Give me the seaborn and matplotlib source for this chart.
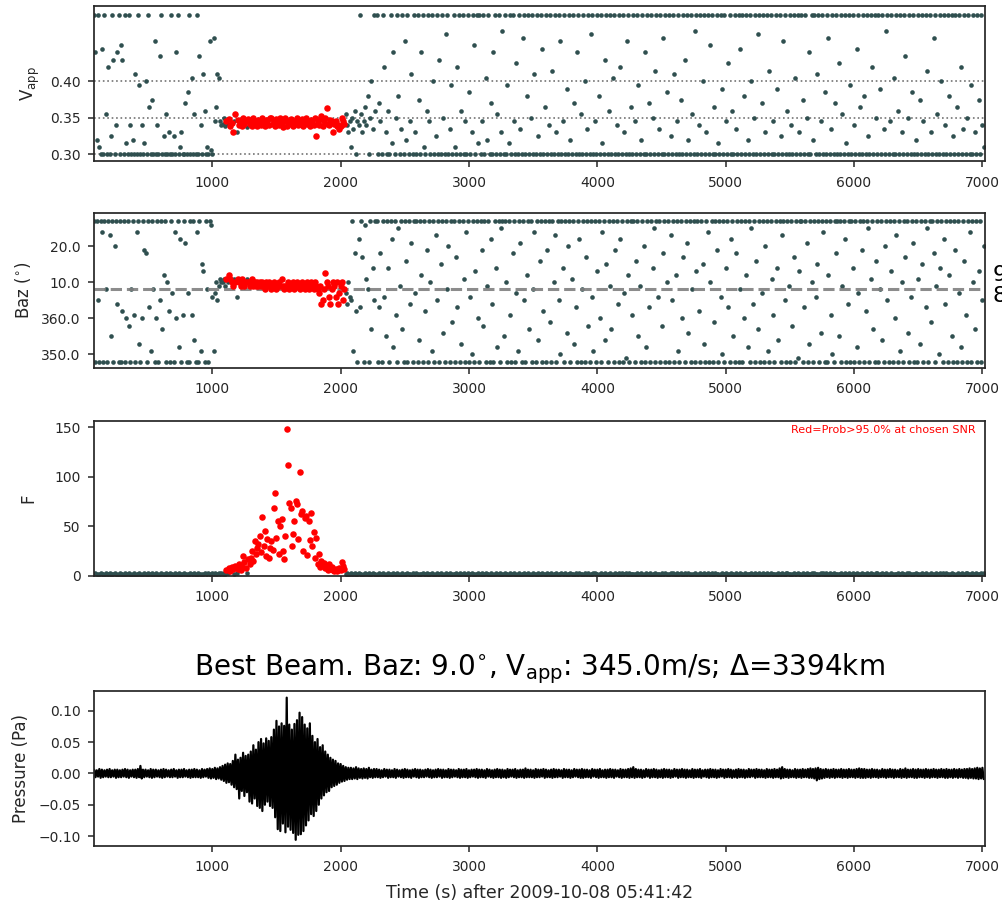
import numpy as np
import pandas as pd
import matplotlib
matplotlib.use("Agg")
import matplotlib.pyplot as plt
import seaborn as sns

# ---------------- data ----------------
# analysis windows: one every 10 s starting at t = 80 s
win_start, win_step = 80, 10

# apparent velocity (km/s * 1000)
vapp_x1000 = [
    492, 440, 320, 492, 310, 300, 445, 300, 492, 355,
    300, 420, 300, 325, 492, 430, 300, 340, 440, 492,
    300, 450, 430, 300, 492, 315, 300, 492, 340, 300,
    320, 300, 410, 300, 492, 395, 300, 340, 300, 315,
    400, 300, 492, 365, 300, 375, 300, 455, 300, 340,
    300, 435, 492, 300, 325, 300, 355, 300, 330, 300,
    492, 300, 325, 300, 440, 492, 300, 310, 330, 300,
    300, 370, 300, 385, 492, 300, 405, 300, 355, 300,
    492, 300, 435, 340, 300, 410, 360, 300, 310, 300,
    455, 305, 300, 460, 345, 365, 410, 405, 345, 340,
    342, 350, 338, 345, 341, 348, 339, 343, 330, 345,
    355, 330, 347, 340, 345, 338, 349, 341, 345, 337,
    348, 341, 345, 339, 350, 342, 346, 338, 347, 343,
    340, 349, 344, 338, 347, 345, 340, 349, 350, 341,
    345, 338, 348, 343, 340, 349, 344, 337, 345, 350,
    339, 345, 341, 348, 344, 338, 346, 343, 349, 340,
    345, 341, 348, 339, 346, 350, 342, 345, 338, 347,
    344, 340, 349, 325, 346, 340, 348, 352, 338, 345,
    350, 364, 342, 340, 347, 345, 330, 342, 345, 338,
    340, 335, 338, 350, 345, 342, 355, 340, 330, 345,
    310, 350, 335, 360, 300, 345, 340, 492, 355, 330,
    345, 365, 340, 380, 300, 350, 400, 335, 492, 360,
    492, 300, 370, 345, 300, 492, 420, 330, 300, 360,
    300, 492, 315, 440, 300, 350, 492, 380, 300, 335,
    492, 300, 455, 320, 492, 300, 345, 410, 300, 492,
    330, 300, 492, 375, 300, 440, 492, 310, 300, 360,
    492, 345, 300, 492, 400, 300, 325, 492, 300, 430,
    300, 492, 350, 300, 465, 492, 300, 335, 395, 300,
    492, 310, 300, 420, 492, 300, 360, 492, 300, 345,
    300, 492, 385, 300, 330, 492, 450, 300, 492, 315,
    492, 300, 345, 492, 300, 405, 320, 492, 300, 370,
    300, 440, 492, 300, 355, 492, 300, 330, 470, 300,
    492, 300, 395, 315, 492, 300, 492, 345, 300, 425,
    300, 492, 335, 300, 460, 492, 300, 380, 492, 300,
    350, 492, 300, 410, 300, 492, 325, 300, 492, 445,
    300, 365, 492, 300, 340, 492, 300, 415, 300, 492,
    330, 300, 492, 455, 300, 345, 492, 300, 390, 300,
    492, 320, 300, 492, 370, 300, 440, 492, 300, 355,
    300, 492, 400, 300, 335, 492, 300, 465, 492, 300,
    345, 300, 492, 380, 300, 492, 315, 300, 430, 492,
    300, 360, 492, 300, 405, 492, 300, 340, 300, 492,
    420, 300, 492, 330, 300, 455, 492, 300, 365, 300,
    492, 345, 300, 492, 395, 300, 320, 492, 300, 440,
    300, 492, 370, 300, 492, 350, 300, 415, 492, 300,
    335, 492, 300, 460, 300, 492, 385, 300, 492, 325,
    300, 492, 410, 300, 345, 492, 300, 375, 300, 492,
    430, 300, 492, 320, 300, 492, 355, 300, 470, 492,
    300, 340, 492, 300, 400, 492, 300, 330, 492, 300,
    450, 492, 300, 365, 300, 492, 315, 300, 492, 390,
    300, 492, 345, 300, 425, 492, 300, 360, 300, 492,
    335, 300, 492, 445, 300, 492, 380, 300, 492, 320,
    300, 492, 400, 300, 350, 492, 300, 465, 492, 300,
    370, 492, 300, 330, 492, 300, 415, 492, 300, 345,
    300, 492, 390, 300, 492, 325, 300, 455, 492, 300,
    360, 300, 492, 340, 300, 492, 405, 300, 492, 330,
    300, 492, 375, 300, 492, 350, 300, 440, 300, 492,
    320, 492, 300, 410, 492, 300, 345, 492, 300, 385,
    300, 492, 460, 300, 335, 492, 300, 370, 492, 300,
    425, 300, 492, 355, 300, 492, 315, 300, 492, 395,
    300, 492, 340, 300, 445, 492, 300, 365, 300, 492,
    380, 300, 492, 325, 300, 492, 420, 300, 492, 350,
    300, 492, 390, 300, 492, 335, 300, 470, 492, 300,
    345, 492, 300, 405, 300, 492, 360, 300, 492, 330,
    300, 492, 435, 300, 350, 492, 300, 385, 492, 300,
    320, 300, 492, 375, 300, 492, 345, 300, 492, 415,
    300, 492, 330, 300, 460, 492, 300, 355, 300, 492,
    400, 300, 492, 340, 300, 492, 380, 300, 492, 325,
    300, 492, 365, 300, 492, 420, 300, 335, 492, 300,
    350, 492, 300, 395, 300, 492, 330, 300, 492, 375,
    300, 492, 340, 310,
]

# back azimuth in degrees (negative = 350..360 side)
baz_deg = [
    27, -12, 27, 5, -12, 27, 24, -12, 27, 8,
    -12, 27, 23, -5, 27, -12, 20, 27, 4, -12,
    27, -12, 2, 27, -12, 0, 27, -2, -12, 8,
    27, 1, -12, 24, 27, -7, -12, 0, 27, 19,
    18, -12, 27, 3, -9, 27, 8, -12, 0, 27,
    -12, 5, 27, -3, 12, 27, -12, 10, 2, -12,
    27, 7, -12, 24, 0, 27, -8, 22, -12, 1,
    27, 21, -12, 7, -12, 27, 1, 27, -6, -12,
    24, -12, 27, -9, 15, 13, -12, 27, 8, -12,
    27, 26, 6, -9, 7, 10, 5, 9, 11, 10,
    10, 11, 9, 11, 10, 12, 11, 10, 9, 11,
    10, 6, 11, 10, 9, 11, 10, 9, 10, 11,
    10, 9, 10, 11, 9, 10, 9, 10, 9, 10,
    9, 10, 9, 8, 10, 9, 10, 9, 8, 9,
    10, 9, 8, 9, 10, 9, 11, 9, 8, 9,
    9, 10, 8, 9, 9, 10, 8, 9, 10, 9,
    8, 9, 10, 9, 8, 9, 10, 8, 9, 10,
    9, 8, 10, 9, 8, 7, 9, 4, 5, 8,
    12.5, 10, 9, 6, 4, 8, 10, 9, 6, 10,
    4, 7, 9, 10, 5, 8, 7, 4, 10, 6,
    5, 27, -9, 18, 2, -12, 22, 3, 27, 17,
    -12, 26, 11, 8, -12, 27, -3, 14, 5, 27,
    27, -12, 3, 18, -12, 27, 6, -5, 27, 14,
    -12, 27, 22, -8, 27, 1, -12, 25, 9, 27,
    -3, -12, 27, 16, -12, 27, 4, 21, -12, 27,
    7, 27, -12, -6, 27, 12, -12, 27, 2, 19,
    -12, 27, 10, -9, 27, -12, 23, 5, 27, -12,
    15, 27, -4, -12, 27, 8, 20, -12, 27, -1,
    27, -12, 17, 3, 27, -12, -7, 27, 11, -12,
    24, 27, -12, 6, -10, 27, -12, 13, 27, 0,
    -12, 27, 19, -2, 27, -12, 9, 27, -12, 22,
    4, -12, 27, 14, -8, 27, -12, 25, 27, -5,
    27, 10, -12, 27, 1, -12, 18, 27, -12, 7,
    -9, 27, 21, -12, 27, 5, -12, 12, 27, -3,
    27, -12, 8, 24, -12, 27, -6, 16, 27, -12,
    2, 27, -12, 19, 27, -1, -12, 27, 10, 23,
    -12, 27, 5, -10, 27, 14, -12, 27, -4, 20,
    27, -12, 11, 27, -7, 3, -12, 27, 22, -12,
    8, 27, -12, 17, 27, -2, -12, 27, 6, -9,
    27, -12, 13, 27, 0, -12, 24, 27, -6, 15,
    -12, 27, 9, -3, 27, -12, 19, 27, 4, -12,
    22, 27, -12, 7, -11, 27, 12, -12, 27, 1,
    27, -12, 16, 27, -5, 9, -12, 27, 20, -12,
    -8, 27, 3, -12, 27, 14, 25, -12, 27, 6,
    27, -12, -2, 18, 27, -12, 10, 27, -12, 23,
    5, 27, -12, 12, 27, -9, -12, 27, 0, 17,
    -12, 27, 21, -4, 27, -12, 8, 27, -12, 13,
    27, 2, -12, 27, 15, -7, -12, 27, 24, -12,
    10, 27, -12, -1, 27, 19, -12, 27, 6, -10,
    27, -12, 14, 27, 3, -12, 22, 27, -5, -12,
    18, 27, -12, 8, 27, -12, 0, 27, 12, -8,
    27, -12, 25, 4, 27, -12, 16, -3, 27, -12,
    7, 27, -12, 20, 27, -9, -12, 27, 11, 1,
    -12, 27, 14, -6, 27, -12, 23, 27, 5, -12,
    27, 9, -12, 27, -2, 17, -12, 27, -11, 13,
    27, 27, -12, 3, 27, 21, -12, -7, 27, 10,
    -12, 27, 6, 15, 27, -12, -4, 27, 24, -12,
    27, -12, 12, 27, 1, -10, -12, 27, 18, 27,
    -5, 27, -12, 9, 27, 22, -12, 4, 27, -12,
    27, 14, -12, 27, -8, 7, -12, 27, 19, 27,
    -12, 2, 27, 25, -12, 11, 27, -3, -12, 16,
    27, -12, 8, 27, -6, -12, 20, 27, 5, -12,
    27, 13, -12, 27, 0, 23, -12, 27, -9, 10,
    -12, 27, 17, 27, -4, -12, 6, 27, 21, -12,
    27, -12, 11, -7, 27, 15, -12, 27, 3, 25,
    -12, 27, -1, 27, 18, -12, 9, 27, -10, 14,
    27, -12, 22, 4, 27, -12, 12, 27, -5, -12,
    27, 19, -12, 27, 7, -8, -12, 27, 16, 1,
    -12, 27, 24, -12, 27, 10, -3, 27, -12, 13,
    27, -12, 5, 20,
]

# Fisher statistic
f_stat = [
    2, 3, 2, 1, 2, 3, 2, 2, 1, 3,
    2, 2, 3, 1, 2, 2, 3, 2, 1, 2,
    3, 2, 2, 1, 3, 2, 2, 3, 2, 1,
    2, 3, 1, 2, 2, 3, 2, 1, 2, 3,
    2, 1, 3, 2, 2, 3, 1, 2, 3, 2,
    1, 2, 3, 2, 2, 1, 3, 2, 2, 3,
    2, 2, 1, 3, 2, 2, 3, 1, 2, 2,
    3, 2, 2, 1, 2, 3, 2, 2, 3, 1,
    2, 3, 2, 2, 1, 2, 3, 2, 2, 3,
    2, 1, 3, 2, 3, 2, 2, 3, 2, 3,
    2, 3, 2, 6, 3, 8, 5, 9, 7, 2,
    10, 3, 7, 12, 6, 9, 20, 14, 8, 3,
    17, 12, 18, 25, 15, 35, 22, 28, 32, 40,
    24, 59, 30, 45, 20, 37, 18, 28, 35, 26,
    68, 84, 38, 55, 22, 50, 57, 25, 17, 40,
    148, 112, 74, 68, 30, 42, 55, 76, 73, 37,
    105, 62, 65, 25, 58, 60, 21, 55, 36, 63,
    30, 44, 18, 38, 12, 22, 9, 15, 11, 13,
    8, 10, 6, 12, 7, 9, 6, 5, 7, 5,
    6, 8, 6, 14, 10, 7, 2, 3, 1, 2,
    3, 2, 2, 3, 1, 2, 3, 2, 2, 1,
    2, 3, 2, 2, 3, 1, 2, 3, 2, 2,
    1, 2, 3, 2, 2, 3, 2, 1, 2, 3,
    2, 2, 1, 3, 2, 2, 3, 2, 1, 2,
    3, 1, 2, 2, 3, 2, 2, 1, 3, 2,
    2, 3, 2, 1, 2, 2, 3, 2, 2, 3,
    1, 2, 2, 3, 2, 1, 2, 3, 2, 2,
    3, 2, 1, 2, 3, 2, 2, 3, 1, 2,
    2, 2, 3, 2, 1, 3, 2, 2, 3, 2,
    1, 3, 2, 2, 3, 2, 1, 2, 2, 3,
    2, 2, 3, 1, 2, 3, 2, 2, 1, 3,
    2, 1, 2, 3, 2, 2, 3, 1, 2, 2,
    3, 2, 2, 1, 3, 2, 2, 3, 2, 1,
    2, 3, 1, 2, 2, 3, 2, 2, 3, 2,
    1, 2, 3, 2, 2, 1, 3, 2, 2, 3,
    2, 2, 1, 3, 2, 2, 3, 1, 2, 2,
    3, 1, 2, 2, 3, 2, 2, 3, 1, 2,
    2, 3, 2, 2, 1, 3, 2, 2, 3, 2,
    2, 1, 3, 2, 2, 3, 1, 2, 2, 3,
    3, 2, 2, 1, 2, 3, 2, 2, 3, 1,
    2, 2, 3, 2, 1, 2, 3, 2, 2, 3,
    1, 3, 2, 2, 3, 2, 1, 3, 2, 2,
    2, 2, 1, 3, 2, 2, 3, 2, 1, 2,
    3, 2, 2, 3, 1, 2, 2, 3, 2, 2,
    2, 1, 3, 2, 2, 3, 2, 1, 2, 3,
    2, 3, 2, 1, 3, 2, 2, 3, 2, 1,
    3, 2, 2, 3, 2, 1, 2, 2, 3, 2,
    1, 2, 3, 2, 2, 3, 1, 2, 3, 2,
    2, 3, 1, 2, 3, 2, 2, 1, 2, 3,
    2, 2, 3, 1, 2, 2, 3, 2, 2, 1,
    3, 1, 2, 3, 2, 2, 1, 3, 2, 2,
    2, 2, 3, 2, 1, 3, 2, 2, 3, 2,
    1, 3, 2, 2, 3, 1, 2, 3, 2, 2,
    2, 2, 1, 3, 2, 2, 3, 2, 1, 3,
    3, 2, 2, 1, 2, 3, 2, 2, 3, 2,
    2, 1, 3, 2, 2, 3, 1, 2, 2, 3,
    2, 3, 2, 2, 1, 2, 3, 2, 3, 1,
    3, 2, 1, 3, 2, 2, 3, 1, 2, 2,
    2, 2, 3, 2, 1, 3, 2, 2, 3, 2,
    1, 3, 2, 2, 3, 2, 1, 2, 3, 2,
    2, 2, 3, 1, 2, 3, 2, 2, 1, 3,
    3, 1, 2, 2, 3, 2, 2, 3, 2, 1,
    2, 3, 2, 1, 2, 2, 3, 2, 2, 3,
    2, 2, 1, 3, 2, 3, 2, 1, 2, 2,
    3, 2, 2, 2, 1, 3, 2, 2, 3, 2,
    1, 2, 3, 2, 2, 1, 3, 2, 2, 3,
    2, 3, 2, 2, 3, 2, 1, 2, 3, 2,
    2, 1, 2, 3, 2, 2, 3, 2, 1, 3,
    3, 2, 2, 1, 3, 2, 2, 3, 2, 2,
    2, 3, 2, 3,
]
f_threshold = 4.5          # F above which Prob > 95 %
best_baz_line = 8.25       # dashed reference line (degrees)
vapp_gridlines = [0.30, 0.35, 0.40]

# best beam: envelope of the trace every 20 s (mPa), starting at t = 80 s
env_start, env_step = 80, 20
beam_upper_mpa = [
    6, 5, 7, 6, 5, 6, 7, 5, 6, 6,
    5, 6, 7, 6, 5, 6, 6, 7, 12, 6,
    6, 5, 7, 6, 6, 5, 6, 7, 6, 5,
    6, 7, 5, 6, 6, 7, 5, 6, 6, 7,
    6, 5, 7, 6, 7, 8, 7, 9, 8, 10,
    12, 14, 16, 15, 20, 30, 22, 25, 33, 28,
    30, 35, 45, 38, 50, 55, 48, 56, 52, 58,
    70, 84, 75, 80, 76, 121, 78, 70, 79, 85,
    97, 90, 78, 72, 80, 60, 50, 55, 42, 45,
    35, 30, 25, 22, 20, 16, 15, 12, 10, 9,
    9, 8, 10, 8, 7, 8, 7, 9, 6, 7,
    7, 6, 5, 7, 6, 6, 5, 7, 6, 5,
    6, 7, 6, 5, 6, 7, 6, 6, 5, 6,
    7, 6, 5, 6, 7, 6, 6, 5, 7, 6,
    6, 5, 7, 6, 6, 7, 5, 6, 6, 7,
    6, 6, 5, 7, 6, 5, 6, 7, 6, 6,
    5, 7, 6, 6, 7, 5, 6, 6, 8, 6,
    6, 5, 7, 6, 6, 7, 6, 5, 6, 7,
    6, 6, 5, 7, 6, 6, 5, 7, 6, 6,
    7, 6, 6, 5, 7, 6, 6, 7, 5, 6,
    6, 7, 6, 6, 5, 7, 6, 6, 7, 8,
    10, 7, 6, 6, 5, 7, 6, 6, 7, 6,
    5, 6, 7, 6, 6, 5, 7, 6, 6, 7,
    6, 6, 5, 7, 6, 6, 7, 5, 6, 6,
    7, 6, 6, 5, 7, 6, 6, 7, 6, 5,
    6, 7, 6, 6, 5, 7, 6, 6, 7, 6,
    6, 5, 7, 6, 6, 7, 6, 8, 10, 7,
    6, 6, 5, 7, 6, 6, 7, 6, 7, 8,
    7, 8, 9, 7, 6, 7, 6, 6, 7, 6,
    6, 7, 6, 6, 7, 6, 6, 7, 8, 7,
    7, 6, 6, 7, 6, 6, 5, 7, 6, 6,
    7, 6, 6, 5, 7, 6, 8, 6, 6, 7,
    6, 7, 6, 6, 7, 6, 6, 7, 6, 6,
    7, 6, 7, 6, 6, 7, 6, 7, 6, 7,
    7, 8, 7, 8, 9, 8, 9,
]
beam_lower_mpa = [
    -6, -5, -7, -6, -5, -6, -6, -5, -7, -6,
    -6, -5, -6, -7, -5, -6, -7, -6, -8, -6,
    -5, -6, -7, -6, -5, -6, -7, -6, -5, -6,
    -6, -5, -7, -6, -6, -5, -6, -7, -6, -6,
    -6, -7, -6, -5, -7, -8, -7, -9, -8, -10,
    -12, -15, -14, -18, -22, -25, -40, -28, -36, -30,
    -45, -48, -40, -52, -55, -60, -50, -45, -52, -55,
    -70, -89, -92, -80, -94, -85, -90, -95, -106, -98,
    -97, -92, -83, -75, -65, -68, -60, -50, -40, -35,
    -30, -28, -22, -20, -18, -15, -13, -12, -10, -9,
    -9, -8, -9, -7, -8, -7, -8, -6, -7, -6,
    -6, -7, -6, -5, -7, -6, -6, -7, -5, -6,
    -7, -6, -6, -7, -5, -6, -7, -6, -6, -5,
    -6, -7, -6, -6, -5, -7, -6, -6, -7, -6,
    -5, -6, -7, -6, -6, -7, -6, -5, -6, -7,
    -6, -6, -7, -5, -6, -7, -6, -6, -7, -6,
    -7, -6, -5, -6, -7, -6, -6, -7, -6, -6,
    -6, -7, -6, -6, -5, -7, -6, -6, -7, -6,
    -6, -5, -7, -6, -6, -7, -6, -5, -6, -7,
    -7, -6, -6, -7, -5, -6, -7, -6, -6, -7,
    -6, -6, -7, -5, -6, -7, -6, -6, -7, -6,
    -7, -6, -6, -7, -6, -5, -7, -6, -6, -7,
    -6, -7, -6, -6, -7, -6, -5, -7, -6, -6,
    -7, -6, -6, -7, -6, -6, -7, -5, -6, -7,
    -6, -6, -7, -6, -5, -7, -6, -6, -7, -6,
    -7, -6, -6, -7, -6, -6, -5, -7, -6, -6,
    -6, -7, -6, -6, -7, -6, -6, -8, -7, -6,
    -7, -6, -6, -7, -6, -7, -6, -6, -7, -7,
    -8, -11, -9, -8, -7, -6, -7, -6, -7, -6,
    -6, -7, -6, -7, -6, -6, -7, -6, -7, -7,
    -7, -6, -7, -6, -6, -7, -6, -6, -7, -6,
    -6, -7, -6, -6, -7, -6, -7, -6, -6, -7,
    -7, -6, -6, -7, -6, -7, -6, -6, -7, -6,
    -6, -7, -7, -6, -7, -6, -7, -6, -7, -7,
    -8, -7, -8, -8, -9, -8, -9,
]

title_text = (r"Best Beam. Baz: 9.0$^{\circ}$, V$_{\rm app}$: 345.0m/s; "
              r"$\Delta$=3394km")
xlabel_text = "Time (s) after 2009-10-08 05:41:42"

# ---------------- tables ----------------
n = len(vapp_x1000)
df = pd.DataFrame({
    "t": win_start + win_step * np.arange(n),
    "vapp": np.array(vapp_x1000) / 1000.0,
    "baz": np.array(baz_deg, dtype=float),
    "F": np.array(f_stat, dtype=float),
})
df["det"] = df["F"] > f_threshold

m = len(beam_upper_mpa)
t_env = env_start + env_step * np.arange(m)
beam = pd.DataFrame({
    "t": np.column_stack([t_env, t_env + env_step / 2]).ravel(),
    "p": np.column_stack([beam_upper_mpa, beam_lower_mpa]).ravel() / 1000.0,
})

# ---------------- style ----------------
sns.set_theme(style="ticks", rc={
    "axes.linewidth": 1.25,
    "xtick.major.size": 4.5, "ytick.major.size": 4.5,
    "xtick.major.width": 1.1, "ytick.major.width": 1.1,
    "xtick.major.pad": 6, "ytick.major.pad": 5,
    "xtick.labelsize": 10, "ytick.labelsize": 10,
    "axes.labelsize": 12,
})
plt.rcParams["font.family"] = ["DejaVu Sans"]

fig = plt.figure(figsize=(10.02, 9.02), dpi=100)
L, W, H = 0.0935, 0.8895, 0.172
bottoms = [0.8215, 0.5923, 0.3617, 0.0624]
axes = [fig.add_axes([L, b, W, H]) for b in bottoms]
gray = "#2F4F4F"
xlim = (76, 7020)

bg = df[~df["det"]]
det = df[df["det"]]
for ax, col in zip(axes[:3], ["vapp", "baz", "F"]):
    sns.scatterplot(data=bg, x="t", y=col, color=gray, s=11, linewidth=0,
                    ax=ax, legend=False, zorder=1)
    sns.scatterplot(data=det, x="t", y=col, color="red", s=22, linewidth=0,
                    ax=ax, legend=False, zorder=3)
    ax.set_xlim(*xlim)
    ax.set_xlabel("")

# Vapp panel
ax = axes[0]
for yv in vapp_gridlines:
    ax.axhline(yv, ls=":", lw=1.2, color="0.45", zorder=0.5)
ax.set_ylim(0.2905, 0.504)
ax.set_yticks(vapp_gridlines)
ax.set_yticklabels(["%.2f" % v for v in vapp_gridlines])
ax.set_ylabel(r"V$_{\rm app}$", labelpad=6)

# Baz panel
ax = axes[1]
ax.axhline(best_baz_line, ls="--", lw=2.2, color="gray", alpha=0.9, zorder=2)
ax.set_ylim(-13.7, 29.3)
ax.set_yticks([20, 10, 0, -10])
ax.set_yticklabels(["20.0", "10.0", "360.0", "350.0"])
ax.set_ylabel(r"Baz ($^{\circ}$)", labelpad=6)
fig.text(993 / 1002, 1 - 275 / 902, "9", fontsize=16, ha="left", va="center",
         color="black")
fig.text(993 / 1002, 1 - 296.5 / 902, "8", fontsize=16, ha="left", va="center",
         color="black")

# F panel
ax = axes[2]
ax.set_ylim(0, 156.8)
ax.set_yticks([0, 50, 100, 150])
ax.set_ylabel("F", labelpad=12)
ax.text(0.99, 0.97, "Red=Prob>95.0% at chosen SNR", transform=ax.transAxes,
        ha="right", va="top", fontsize=8, color="red")

# best beam panel
ax = axes[3]
sns.lineplot(data=beam, x="t", y="p", color="black", lw=1.6, estimator=None,
             sort=False, ax=ax)
ax.set_xlim(*xlim)
ax.set_ylim(-0.1154, 0.1323)
ax.set_yticks([-0.10, -0.05, 0.0, 0.05, 0.10])
ax.set_ylabel("Pressure (Pa)", labelpad=6)
ax.set_xlabel(xlabel_text, fontsize=12.5, labelpad=7)
ax.set_title(title_text, fontsize=20, color="black", pad=11)

fig.savefig("out.png", dpi=100)
